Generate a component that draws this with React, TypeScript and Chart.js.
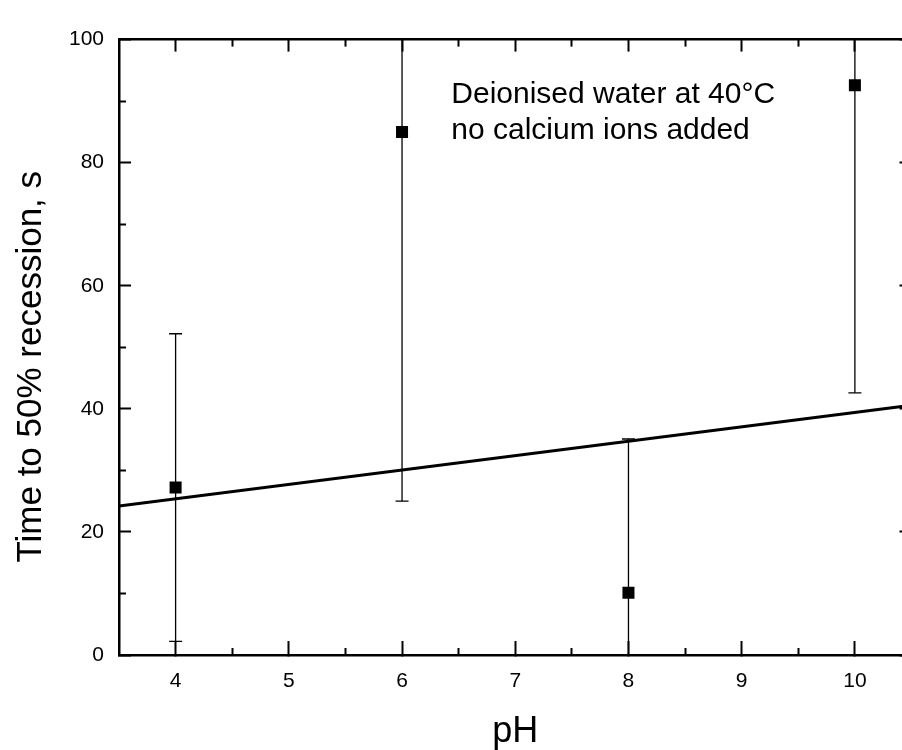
import React, { useEffect, useRef } from "react";
import { Chart, registerables } from "chart.js";

Chart.register(...registerables);

// ---- data ----
const phValues = [4, 6, 8, 10];
const meanTimes = [27.2, 85.0, 10.1, 92.6];
const errors = [25, 60, 25, 50];

const fitX = [3.5, 10.5];
const fitY = [24.2, 40.6];

const xMajorTicks = [4, 5, 6, 7, 8, 9, 10];
const xMinorTicks = [4.5, 5.5, 6.5, 7.5, 8.5, 9.5];
const yMajorTicks = [0, 20, 40, 60, 80, 100];
const yMinorTicks = [10, 30, 50, 70, 90];

const xRange = [3.5, 10.5];
const yRange = [0, 100];

const annotationLines = ["Deionised water at 40°C", "no calcium ions added"];
const annotationX = 6.435;
const annotationY = [89.7, 83.9];

const xTitle = "pH";
const yTitle = "Time to 50% recession, s";

const FONT = "'Liberation Sans', Arial, Helvetica, sans-serif";

function setTicks(values: number[]) {
  return (scale: any) => {
    scale.ticks = values.map((v) => ({ value: v }));
  };
}

function axis(position: string, isX: boolean, ticks: number[], tickLen: number, weight: number, showBorder: boolean, extra: any = {}) {
  const range = isX ? xRange : yRange;
  return {
    type: "linear",
    position,
    axis: isX ? "x" : "y",
    min: range[0],
    max: range[1],
    weight,
    afterBuildTicks: setTicks(ticks),
    afterFit: (scale: any) => {
      if (scale.isHorizontal()) scale.height = 0;
      else scale.width = 0;
    },
    grid: {
      display: true,
      drawOnChartArea: false,
      drawTicks: true,
      tickLength: tickLen,
      tickWidth: 2,
      tickColor: "#000",
    },
    border: { display: showBorder, color: "#000", width: 2.5 },
    ticks: { display: false, autoSkip: false },
    ...extra,
  };
}

const annotationPlugin = {
  id: "annotationText",
  afterDatasetsDraw(chart: any) {
    const { ctx, scales } = chart;
    ctx.save();
    ctx.fillStyle = "#000";
    ctx.font = `30px ${FONT}`;
    ctx.textAlign = "left";
    ctx.textBaseline = "alphabetic";
    const px = scales.x.getPixelForValue(annotationX);
    annotationLines.forEach((line, i) => {
      ctx.fillText(line, px, scales.y.getPixelForValue(annotationY[i]));
    });
    ctx.restore();
  },
};

export default function App() {
  const canvasRef = useRef<HTMLCanvasElement | null>(null);

  useEffect(() => {
    const canvas = canvasRef.current;
    if (!canvas) return;

    const errorBarSets = phValues.map((x, i) => ({
      data: [
        { x, y: meanTimes[i] - errors[i] },
        { x, y: meanTimes[i] + errors[i] },
      ],
      showLine: true,
      borderColor: "#000",
      borderWidth: 1.3,
      pointStyle: "line",
      pointRadius: 6.5,
      pointBorderWidth: 1.3,
      pointBorderColor: "#000",
      backgroundColor: "#000",
      clip: 0,
      xAxisID: "x",
      yAxisID: "y",
    }));

    const chart = new Chart(canvas, {
      type: "scatter",
      data: {
        datasets: [
          {
            data: phValues.map((x, i) => ({ x, y: meanTimes[i] })),
            pointStyle: "rect",
            pointRadius: 8.5,
            pointBorderWidth: 0,
            backgroundColor: "#000",
            borderColor: "#000",
            xAxisID: "x",
            yAxisID: "y",
          } as any,
          ...errorBarSets,
          {
            data: fitX.map((x, i) => ({ x, y: fitY[i] })),
            showLine: true,
            borderColor: "#000",
            borderWidth: 3,
            pointRadius: 0,
            clip: 0,
            xAxisID: "x",
            yAxisID: "y",
          } as any,
        ],
      },
      options: {
        animation: false,
        responsive: false,
        devicePixelRatio: 1,
        events: [],
        layout: { padding: { top: 22, right: 8, bottom: 0, left: 0 } },
        plugins: {
          legend: { display: false },
          tooltip: { enabled: false },
        },
        scales: {
          x: axis("bottom", true, xMajorTicks, -14, 1, true, {
            afterFit: (s: any) => {
              s.height = 95;
            },
            ticks: {
              display: true,
              autoSkip: false,
              color: "#000",
              padding: 28,
              font: { family: FONT, size: 21 },
            },
            title: {
              display: true,
              text: xTitle,
              color: "#000",
              padding: 0,
              font: { family: FONT, size: 36, lineHeight: 1 },
            },
          }),
          xMinor: axis("bottom", true, xMinorTicks, -7, 0, false),
          xTop: axis("top", true, xMajorTicks, -12, 1, true),
          xTopMinor: axis("top", true, xMinorTicks, -7, 0, false),
          y: axis("left", false, yMajorTicks, -12, 1, true, {
            afterFit: (s: any) => {
              s.width = 119;
            },
            ticks: {
              display: true,
              autoSkip: false,
              color: "#000",
              padding: 27,
              font: { family: FONT, size: 21 },
            },
            title: {
              display: true,
              text: yTitle + "    ",
              color: "#000",
              padding: { top: 13.6, bottom: 0 },
              font: { family: FONT, size: 35, lineHeight: 1 },
            },
          }),
          yMinor: axis("left", false, yMinorTicks, -7, 0, false),
          yRight: axis("right", false, yMajorTicks, -12, 1, true),
          yRightMinor: axis("right", false, yMinorTicks, -7, 0, false),
        } as any,
      },
      plugins: [annotationPlugin],
    } as any);

    return () => chart.destroy();
  }, []);

  return (
    <div
      style={{
        position: "fixed",
        left: 0,
        top: 0,
        width: 902,
        height: 750,
        overflow: "hidden",
        background: "#fff",
      }}
    >
      <canvas ref={canvasRef} width={920} height={750} style={{ display: "block", width: 920, height: 750 }} />
    </div>
  );
}
